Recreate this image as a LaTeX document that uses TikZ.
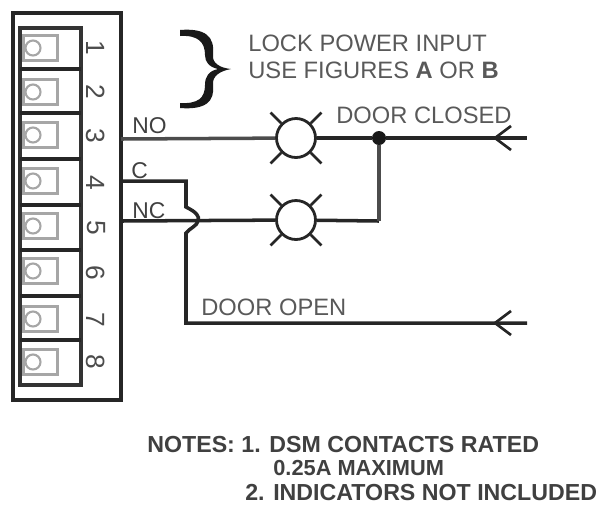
\documentclass[tikz,border=0pt]{standalone}
\usepackage{fontspec}
\setmainfont{Liberation Sans}
\tikzset{
  thick line/.style={line width=2pt, black!85},
  lamp/.style={draw, circle, line width=1.6pt, black!85, minimum size=0.78cm, inner sep=0pt},
  ray/.style={line width=1.5pt, black!85},
  terminal/.style={draw=black!35, line width=1.2pt, minimum width=0.68cm, minimum height=0.5cm, inner sep=0pt},
  screw/.style={draw=black!35, circle, line width=1.2pt, minimum size=0.3cm, inner sep=0pt},
  digit/.style={rotate=-90, text=black!70, font=\fontsize{15}{17}\selectfont},
  wirelabel/.style={text=black!65, font=\fontsize{13.5}{16}\selectfont, inner sep=0pt},
  wirename/.style={text=black!75, font=\fontsize{13}{15}\selectfont, inner sep=0pt},
  note/.style={text=black!75, font=\fontsize{13.2}{15}\bfseries\selectfont, inner sep=0pt},
}
\begin{document}
\begin{tikzpicture}[x=0.02cm, y=-0.02cm]
      \useasboundingbox (0, 0) rectangle (598, 508);
      % terminal block
      \draw [line width=2pt, black!85] (13, 13) rectangle (121, 400);
      \draw [line width=2pt, black!80] (20, 28) rectangle (81, 385);
      \foreach \y in {69, 113, 159, 205, 250, 296, 340}
        \draw [thick line] (20, \y) -- (81, \y);
      \foreach \n/\y in {1/48, 2/92, 3/135, 4/181, 5/226, 6/271, 7/319, 8/362} {
        \node [terminal] (term\n) at (40.5, \y) {};
        \node [screw] (screw\n) at (33, \y) {};
      }
      \foreach \n/\y in {1/48, 2/92, 3/136, 4/183, 5/228, 6/273, 7/320, 8/362}
        \node [digit] (num\n) at (96, \y) {\n};
      % brace
      \fill [black!90] (180, 30) .. controls (205, 28) and (215, 36) .. (213, 55)
        .. controls (212, 63) and (220, 68) .. (231, 69)
        .. controls (220, 71) and (212, 76) .. (213, 85)
        .. controls (215, 102) and (205, 110) .. (180, 108)
        -- (180, 103) .. controls (198, 104) and (205, 98) .. (205, 85)
        .. controls (205, 76) and (209, 71) .. (218, 69)
        .. controls (209, 67) and (205, 62) .. (205, 55)
        .. controls (205, 42) and (198, 35) .. (180, 36) -- cycle;
      \node [wirelabel, anchor=west] (power) at (248, 43) {LOCK POWER INPUT};
      \node [wirelabel, anchor=west] (figures) at (248, 70) {USE FIGURES \textbf{A} OR \textbf{B}};
      % wiring
      \node [lamp] (lampa) at (296, 138) {};
      \node [lamp] (lampb) at (296, 220) {};
      \foreach \l in {lampa, lampb}
        \foreach \a in {45, 135, 225, 315}
          \draw [ray] (\l.\a) -- ++({-\a}:15);
      \coordinate (no) at (121, 139);
      \coordinate (c) at (121, 181);
      \coordinate (nc) at (121, 221);
      \coordinate (closed) at (527, 138);
      \coordinate (open) at (527, 323);
      \coordinate (cbend) at (186, 181);
      \coordinate (hopa) at (186, 207);
      \coordinate (hopb) at (186, 233);
      \coordinate (cfoot) at (186, 323);
      \coordinate (nccorner) at (379, 221);
      \node [circle, fill=black!90, inner sep=0pt, minimum size=0.28cm] (dot) at (379, 138) {};
      \draw [thick line, black!70] (no) -- (lampa);
      \draw [thick line] (lampa) -- (dot);
      \draw [thick line] (dot) -- (closed);
      \draw [thick line] (nc) -- (lampb);
      \draw [thick line] (lampb) -- (nccorner);
      \draw [thick line, black!70] (nccorner) -- (dot);
      \draw [thick line] (c) -- (cbend) -- (hopa) .. controls (196, 212) and (200, 216) .. (198, 221)
        .. controls (197, 226) and (190, 228) .. (hopb) -- (cfoot) -- (open);
      % arrows
      \coordinate (tipa) at (495, 138);
      \coordinate (tipb) at (495, 323);
      \foreach \t in {tipa, tipb} {
        \draw [ray] (\t) -- ++(16, -12);
        \draw [ray] (\t) -- ++(16, 12);
      }
      % labels
      \node [wirelabel, anchor=west] (closedlabel) at (336, 115) {DOOR CLOSED};
      \node [wirelabel, anchor=west] (openlabel) at (201, 307) {DOOR OPEN};
      \node [wirename, anchor=west] (nolabel) at (132, 126) {NO};
      \node [wirename, anchor=west] (clabel) at (131, 171) {C};
      \node [wirename, anchor=west] (nclabel) at (132, 211) {NC};
      \node [note, anchor=west] (notea) at (147, 445) {NOTES: 1. DSM CONTACTS RATED};
      \node [note, anchor=west, font=\fontsize{12.4}{15}\bfseries\selectfont] (noteb) at (273, 468) {0.25A MAXIMUM};
      \node [note, anchor=west] (notec) at (245, 493) {2. INDICATORS NOT INCLUDED};
    \end{tikzpicture}
\end{document}
